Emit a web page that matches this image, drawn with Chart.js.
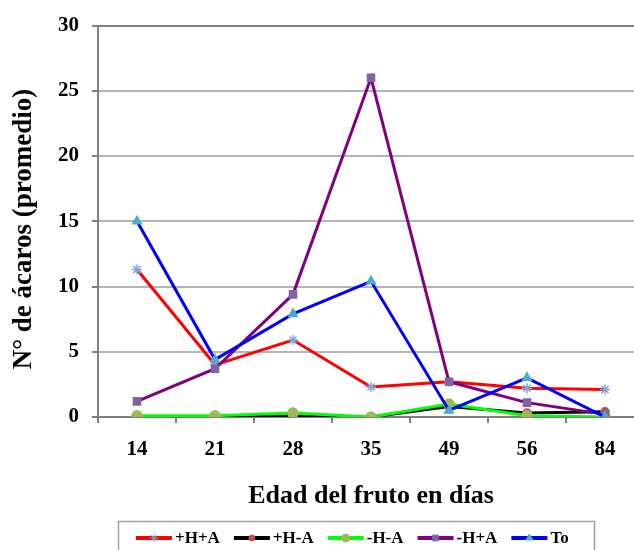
<!DOCTYPE html>
<html>
<head>
<meta charset="utf-8">
<script src="https://cdn.jsdelivr.net/npm/chart.js"></script>
<style>
  body { margin: 0; background: #fff; }
  #wrap { width: 634px; height: 550px; overflow: hidden; position: relative; }
</style>
</head>
<body>
<div id="wrap"><canvas id="chart" width="660" height="560"></canvas></div>
<script>
// datos
var dias = ['14', '21', '28', '35', '49', '56', '84'];
var nombres = ['+H+A', '+H-A', '-H-A', '-H+A', 'To'];
var hMasAMas = [11.3, 4.0, 5.9, 2.3, 2.7, 2.2, 2.1];
var hMasAMenos = [0, 0, 0.1, 0, 0.8, 0.3, 0.4];
var hMenosAMenos = [0.1, 0.1, 0.3, 0, 1.0, 0.1, 0];
var hMenosAMas = [1.2, 3.7, 9.4, 26, 2.7, 1.1, 0.2];
var testigo = [15, 4.4, 7.9, 10.4, 0.5, 3.0, 0];
var ejeYMin = 0, ejeYMax = 30, ejeYPaso = 5;
var tituloX = 'Edad del fruto en días';
var tituloY = 'N° de ácaros (promedio)';

var valores = [hMasAMas, hMasAMenos, hMenosAMenos, hMenosAMas, testigo];
var estilos = [
    { linea: '#ff0000', marca: '#7fa6d8', forma: 'star', radio: 5 },
    { linea: '#000000', marca: '#c0504d', forma: 'circle', radio: 4 },
    { linea: '#00ff00', marca: '#9bbb59', forma: 'circle', radio: 5 },
    { linea: '#800080', marca: '#8064a2', forma: 'rect', radio: 5 },
    { linea: '#0000ff', marca: '#4bacc6', forma: 'triangle', radio: 5 }
];

var datasets = nombres.map(function (nombre, i) {
    var e = estilos[i];
    return {
        label: nombre,
        data: valores[i],
        borderColor: e.linea,
        borderWidth: 3,
        tension: 0,
        pointStyle: e.forma,
        pointRadius: e.radio,
        pointBackgroundColor: e.marca,
        pointBorderColor: e.marca,
        pointBorderWidth: 1.5,
        order: nombres.length - i
    };
});

var fuente = '"Liberation Serif", "Times New Roman", serif';

// titulo del eje Y, un poco mas abajo que el centro del area
var tituloEjeY = {
    id: 'tituloEjeY',
    afterDraw: function (chart) {
        var ctx = chart.ctx;
        ctx.save();
        ctx.translate(24, 229);
        ctx.rotate(-Math.PI / 2);
        ctx.font = 'bold 27px ' + fuente;
        ctx.fillStyle = '#000';
        ctx.textAlign = 'center';
        ctx.textBaseline = 'middle';
        ctx.fillText(tituloY, 0, 0);
        ctx.restore();
    }
};

// leyenda dibujada a mano, con linea y marcador
var leyenda = {
    id: 'leyenda',
    afterDraw: function (chart) {
        var ctx = chart.ctx;
        ctx.save();
        ctx.strokeStyle = '#a0a0a0';
        ctx.lineWidth = 1.5;
        ctx.strokeRect(118.5, 521.5, 476, 45);
        ctx.font = 'bold 17px ' + fuente;
        ctx.textBaseline = 'middle';
        var x = 136, y = 538;
        chart.data.datasets.forEach(function (ds) {
            ctx.strokeStyle = ds.borderColor;
            ctx.lineWidth = 4;
            ctx.beginPath();
            ctx.moveTo(x, y);
            ctx.lineTo(x + 36, y);
            ctx.stroke();
            ctx.fillStyle = ds.pointBackgroundColor;
            ctx.strokeStyle = ds.pointBorderColor;
            ctx.lineWidth = 1;
            Chart.helpers.drawPoint(ctx, { pointStyle: ds.pointStyle, radius: ds.pointRadius - 1, rotation: 0, borderWidth: 1 }, x + 18, y);
            ctx.fillStyle = '#000';
            ctx.fillText(ds.label, x + 39, y + 1);
            x += 39 + ctx.measureText(ds.label).width + 14;
        });
        ctx.restore();
    }
};

new Chart(document.getElementById('chart'), {
    type: 'line',
    data: { labels: dias, datasets: datasets },
    plugins: [tituloEjeY, leyenda],
    options: {
        responsive: false,
        animation: false,
        devicePixelRatio: 1,
        layout: { padding: { top: 21, right: 16, left: 0, bottom: 48.4 } },
        plugins: {
            legend: { display: false },
            tooltip: { enabled: false }
        },
        scales: {
            x: {
                offset: true,
                grid: { drawOnChartArea: false, offset: true, tickLength: 6, tickColor: '#808080', lineWidth: 2 },
                border: { color: '#808080', width: 2 },
                ticks: { color: '#000', padding: 14, font: { family: fuente, size: 21, weight: 'bold' } },
                title: {
                    display: true,
                    text: tituloX,
                    color: '#000',
                    padding: { top: 0, bottom: 0 },
                    font: { family: fuente, size: 26, weight: 'bold' }
                },
                afterFit: function (scale) { scale.height = 94.6; }
            },
            y: {
                min: ejeYMin,
                max: ejeYMax,
                ticks: { stepSize: ejeYPaso, color: '#000', padding: 13, font: { family: fuente, size: 21, weight: 'bold' } },
                grid: {
                    tickLength: 6,
                    tickColor: '#808080',
                    lineWidth: 2,
                    color: function (c) { return c.tick && c.tick.value === ejeYMax ? '#808080' : '#b4b4b4'; }
                },
                border: { color: '#808080', width: 2 },
                afterFit: function (scale) { scale.width = 98; }
            }
        }
    }
});
</script>
</body>
</html>
